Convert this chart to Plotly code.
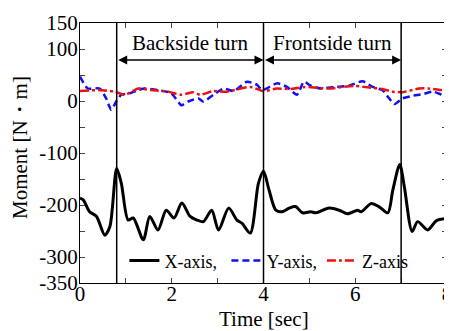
import plotly.graph_objects as go

# ---- data ----
x_time_x = [0.0, 0.07, 0.21, 0.36, 0.54, 0.65, 0.80, 0.90, 1.05, 1.16, 1.38, 1.52, 1.70, 1.88, 2.05,
            2.22, 2.40, 2.55, 2.69, 2.87, 3.02, 3.24, 3.42, 3.53, 3.71, 3.89, 4.0, 4.12, 4.27, 4.41,
            4.56, 4.70, 4.85, 5.03, 5.14, 5.43, 5.65, 5.83, 6.05, 6.13, 6.35, 6.53, 6.71, 6.82, 6.97,
            7.07, 7.24, 7.36, 7.58, 7.77, 8.0]
x_axis_moment = [-187, -190, -213, -222, -258, -242, -130, -158, -229, -225, -267, -222, -248, -210, -225,
                 -196, -222, -229, -232, -210, -248, -206, -229, -235, -254, -158, -135, -171, -210, -213,
                 -206, -203, -215, -213, -215, -206, -210, -217, -210, -213, -197, -204, -215, -171, -122,
                 -165, -251, -232, -248, -230, -226]

y_time = [0.0, 0.17, 0.43, 0.57, 0.68, 0.79, 0.90, 1.09, 1.27, 1.41, 1.70, 1.99, 2.21, 2.36, 2.58, 2.69,
          2.91, 3.13, 3.35, 3.64, 3.86, 3.97, 4.30, 4.51, 4.73, 4.88, 5.02, 5.24, 5.55, 5.85, 6.16, 6.38,
          6.59, 6.74, 6.85, 7.03, 7.25, 7.47, 7.69, 7.86, 8.0]
y_axis_moment = [47, 24, 24, 5, -17, -1, 12, 15, 21, 24, 21, 15, -8, -1, 5, -1,
                 12, 24, 19, 37, 31, 21, 34, 27, 12, 37, 30, 24, 27, 29, 38, 27,
                 21, 5, -6, 5, 10, 13, 18, 13, 8]

z_time = [0.0, 0.4, 0.76, 0.98, 1.27, 1.55, 1.92, 2.20, 2.47, 2.62, 2.90, 3.20, 3.71, 4.0, 4.29, 4.58,
          4.90, 5.20, 5.50, 5.70, 6.0, 6.3, 6.59, 6.81, 7.03, 7.39, 7.6, 8.0]
z_axis_moment = [19, 21, 18, 12, 24, 21, 18, 12, 17, 12, 19, 18, 27, 19, 24, 23,
                 27, 25, 24, 27, 29, 26, 23, 18, 17, 24, 24, 19]

turn_times = [0.8, 4.0, 7.0]
turn_labels = ["Backside turn", "Frontside turn"]
arrow_level = 79
label_level = 111

y_tickvals = [150, 100, 50, 0, -50, -100, -150, -200, -250, -300, -350]
y_ticktext = ["150", "100", "", "0", "", "-100", "", "-200", "", "-300", "-350"]
x_tickvals = [0, 1, 2, 3, 4, 5, 6, 7, 8]
x_ticktext = ["0", "", "2", "", "4", "", "6", "", "8"]

FONT = "Liberation Serif, Times New Roman, serif"

fig = go.Figure()
fig.add_trace(go.Scatter(x=x_time_x, y=x_axis_moment, mode="lines", name="X-axis, ",
                         line=dict(color="black", width=3, shape="spline", smoothing=0.8)))
fig.add_trace(go.Scatter(x=y_time, y=y_axis_moment, mode="lines", name="Y-axis,",
                         line=dict(color="#1010ee", width=2.5, dash="7px,4px", shape="spline", smoothing=0.6)))
fig.add_trace(go.Scatter(x=z_time, y=z_axis_moment, mode="lines", name="Z-axis",
                         line=dict(color="#ee1010", width=2.5, dash="9px,3px,3px,3px", shape="spline", smoothing=0.6)))

for t in turn_times:
    fig.add_shape(type="line", x0=t, x1=t, y0=0, y1=1, xref="x", yref="paper",
                  line=dict(color="black", width=1.5), layer="above")

for i, lab in enumerate(turn_labels):
    a, b = turn_times[i], turn_times[i + 1]
    fig.add_annotation(x=b, y=arrow_level, ax=a, ay=arrow_level, xref="x", yref="y",
                       axref="x", ayref="y", showarrow=True, arrowhead=2, arrowside="end+start",
                       arrowsize=1.2, arrowwidth=1.5, arrowcolor="black", text="")
    fig.add_annotation(x=(a + b) / 2, y=label_level, xref="x", yref="y", text=lab,
                       showarrow=False, font=dict(family=FONT, size=21, color="black"))

# axis titles
fig.add_annotation(x=0.5, y=-0.14, xref="paper", yref="paper", text="Time [sec]", showarrow=False,
                   xanchor="center", yanchor="middle", font=dict(family=FONT, size=21, color="black"))
fig.add_annotation(x=-0.163, y=0.52, xref="paper", yref="paper", text="Moment [N・m]", showarrow=False,
                   textangle=-90, xanchor="center", yanchor="middle",
                   font=dict(family=FONT, size=21, color="black"))

# page body has an 8px margin, so the figure is sized/offset to compensate
fig.update_layout(
    width=444, height=323,
    margin=dict(l=72, r=5, t=15, b=48),
    plot_bgcolor="white", paper_bgcolor="white",
    font=dict(family=FONT, size=21, color="black"),
    showlegend=True,
    legend=dict(orientation="h", x=0.121, y=0.085, xanchor="left", yanchor="middle",
                bgcolor="rgba(0,0,0,0)", font=dict(family=FONT, size=18),
                itemwidth=30, tracegroupgap=0),
)
fig.update_xaxes(range=[0, 8], tickvals=x_tickvals, ticktext=x_ticktext, ticks="inside", ticklen=5,
                 showline=True, linecolor="black", linewidth=1.2, mirror="ticks", showgrid=False,
                 zeroline=False, tickfont=dict(family=FONT, size=21), automargin=False,
                 ticklabeloverflow="allow", ticklabelstandoff=-8)
fig.update_yaxes(range=[-350, 150], tickvals=y_tickvals, ticktext=y_ticktext, ticks="inside", ticklen=5,
                 showline=True, linecolor="black", linewidth=1.2, mirror="ticks", showgrid=False,
                 zeroline=False, tickfont=dict(family=FONT, size=21), automargin=False,
                 ticklabeloverflow="allow", ticklabelstandoff=-3)

fig.write_html("out.html")
